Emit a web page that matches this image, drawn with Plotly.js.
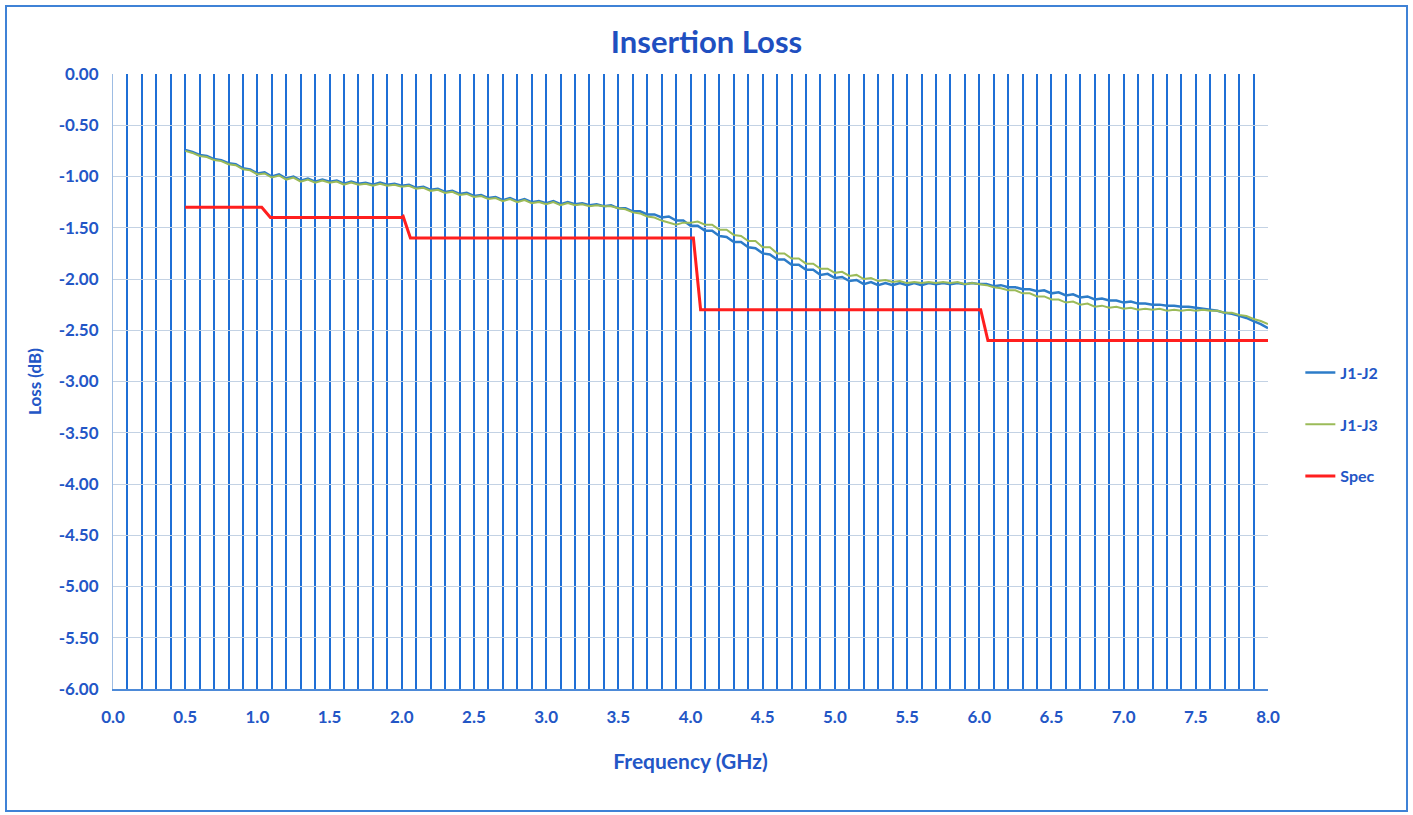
<!DOCTYPE html>
<html>
<head>
<meta charset="utf-8">
<script src="https://cdn.plot.ly/plotly-3.0.1.min.js"></script>
<style>
  html, body { margin: 0; padding: 0; background: #ffffff; }
  #wrap { position: relative; width: 1413px; height: 815px; }
  #chart { position: absolute; left: 0; top: 0; width: 1413px; height: 815px; }
  #frame { position: absolute; left: 5px; top: 5px; width: 1399px; height: 803px;
           border: 2px solid #3f82d6; pointer-events: none; }
</style>
</head>
<body>
<div id="wrap">
  <div id="chart"></div>
  <div id="frame"></div>
</div>
<script>
// Frequency points (GHz)
const freq = [
  0.50,0.55,0.60,0.65,0.70,0.75,0.80,0.85,0.90,0.95,
  1.00,1.05,1.10,1.15,1.20,1.25,1.30,1.35,1.40,1.45,
  1.50,1.55,1.60,1.65,1.70,1.75,1.80,1.85,1.90,1.95,
  2.00,2.05,2.10,2.15,2.20,2.25,2.30,2.35,2.40,2.45,
  2.50,2.55,2.60,2.65,2.70,2.75,2.80,2.85,2.90,2.95,
  3.00,3.05,3.10,3.15,3.20,3.25,3.30,3.35,3.40,3.45,
  3.50,3.55,3.60,3.65,3.70,3.75,3.80,3.85,3.90,3.95,
  4.00,4.05,4.10,4.15,4.20,4.25,4.30,4.35,4.40,4.45,
  4.50,4.55,4.60,4.65,4.70,4.75,4.80,4.85,4.90,4.95,
  5.00,5.05,5.10,5.15,5.20,5.25,5.30,5.35,5.40,5.45,
  5.50,5.55,5.60,5.65,5.70,5.75,5.80,5.85,5.90,5.95,
  6.00,6.05,6.10,6.15,6.20,6.25,6.30,6.35,6.40,6.45,
  6.50,6.55,6.60,6.65,6.70,6.75,6.80,6.85,6.90,6.95,
  7.00,7.05,7.10,7.15,7.20,7.25,7.30,7.35,7.40,7.45,
  7.50,7.55,7.60,7.65,7.70,7.75,7.80,7.85,7.90,7.95,
  8.00
];

// J1-J2 insertion loss (dB)
const lossJ1J2 = [
  -0.74,-0.76,-0.79,-0.80,-0.83,-0.84,-0.87,-0.88,-0.92,-0.93,
  -0.97,-0.96,-1.00,-0.98,-1.02,-1.00,-1.04,-1.02,-1.05,-1.03,
  -1.05,-1.04,-1.07,-1.05,-1.07,-1.06,-1.08,-1.06,-1.08,-1.07,
  -1.09,-1.08,-1.11,-1.10,-1.13,-1.12,-1.15,-1.14,-1.17,-1.16,
  -1.19,-1.18,-1.21,-1.20,-1.23,-1.21,-1.24,-1.22,-1.25,-1.24,
  -1.26,-1.24,-1.27,-1.25,-1.27,-1.26,-1.28,-1.27,-1.29,-1.28,
  -1.31,-1.31,-1.34,-1.34,-1.37,-1.37,-1.40,-1.39,-1.43,-1.43,
  -1.48,-1.48,-1.53,-1.53,-1.58,-1.59,-1.64,-1.64,-1.69,-1.70,
  -1.75,-1.76,-1.81,-1.81,-1.86,-1.86,-1.91,-1.91,-1.96,-1.95,
  -1.99,-1.98,-2.02,-2.01,-2.05,-2.03,-2.06,-2.04,-2.06,-2.04,
  -2.06,-2.04,-2.06,-2.04,-2.05,-2.04,-2.05,-2.04,-2.05,-2.04,
  -2.05,-2.05,-2.07,-2.06,-2.08,-2.08,-2.10,-2.10,-2.12,-2.11,
  -2.14,-2.13,-2.16,-2.15,-2.18,-2.17,-2.20,-2.19,-2.21,-2.21,
  -2.23,-2.22,-2.24,-2.24,-2.25,-2.25,-2.26,-2.26,-2.27,-2.27,
  -2.28,-2.29,-2.30,-2.31,-2.33,-2.34,-2.36,-2.38,-2.41,-2.44,
  -2.48
];

// J1-J3 insertion loss (dB)
const lossJ1J3 = [
  -0.75,-0.77,-0.80,-0.81,-0.84,-0.85,-0.88,-0.89,-0.93,-0.94,
  -0.98,-0.97,-1.01,-0.99,-1.03,-1.01,-1.05,-1.03,-1.06,-1.04,
  -1.06,-1.05,-1.08,-1.06,-1.08,-1.07,-1.09,-1.07,-1.09,-1.08,
  -1.10,-1.09,-1.12,-1.11,-1.14,-1.13,-1.16,-1.15,-1.18,-1.17,
  -1.20,-1.19,-1.22,-1.21,-1.24,-1.22,-1.25,-1.23,-1.26,-1.25,
  -1.27,-1.25,-1.28,-1.26,-1.28,-1.27,-1.29,-1.28,-1.29,-1.29,
  -1.31,-1.32,-1.35,-1.36,-1.39,-1.40,-1.43,-1.45,-1.47,-1.45,
  -1.45,-1.44,-1.47,-1.47,-1.52,-1.52,-1.57,-1.58,-1.63,-1.63,
  -1.69,-1.69,-1.75,-1.75,-1.80,-1.80,-1.85,-1.85,-1.90,-1.90,
  -1.94,-1.93,-1.97,-1.96,-2.00,-1.99,-2.02,-2.01,-2.03,-2.02,
  -2.04,-2.03,-2.04,-2.03,-2.04,-2.03,-2.04,-2.03,-2.05,-2.04,
  -2.05,-2.06,-2.08,-2.09,-2.11,-2.11,-2.14,-2.14,-2.17,-2.17,
  -2.20,-2.20,-2.23,-2.22,-2.25,-2.24,-2.27,-2.26,-2.28,-2.27,
  -2.29,-2.28,-2.30,-2.29,-2.30,-2.29,-2.31,-2.30,-2.31,-2.30,
  -2.31,-2.30,-2.31,-2.31,-2.33,-2.33,-2.35,-2.36,-2.39,-2.41,
  -2.44
];

// Spec limit (dB)
const specFreq = [0.50, 1.03, 1.09, 2.00, 2.01, 2.06, 4.02, 4.07, 6.01, 6.06, 8.00];
const specLoss = [-1.30, -1.30, -1.40, -1.40, -1.39, -1.60, -1.60, -2.30, -2.30, -2.60, -2.60];

const seriesNames = ['J1-J2', 'J1-J3', 'Spec'];

// Tick labels
const xTickVals = [0, 0.5, 1, 1.5, 2, 2.5, 3, 3.5, 4, 4.5, 5, 5.5, 6, 6.5, 7, 7.5, 8];
const xTickText = ['0.0','0.5','1.0','1.5','2.0','2.5','3.0','3.5','4.0','4.5','5.0','5.5','6.0','6.5','7.0','7.5','8.0'];
const yTickVals = [0, -0.5, -1, -1.5, -2, -2.5, -3, -3.5, -4, -4.5, -5, -5.5, -6];
const yTickText = ['0.00','-0.50','-1.00','-1.50','-2.00','-2.50','-3.00','-3.50','-4.00','-4.50','-5.00','-5.50','-6.00'];

const textBlue = '#2356c6';
const fontFam = 'Lato, "Open Sans", "Noto Sans", sans-serif';

const traces = [
  { x: freq, y: lossJ1J2, name: seriesNames[0], type: 'scatter', mode: 'lines',
    line: { color: '#2d7cc8', width: 2.5 }, legendgroup: 'a' },
  { x: freq, y: lossJ1J3, name: seriesNames[1], type: 'scatter', mode: 'lines',
    line: { color: '#9bbb59', width: 2 }, legendgroup: 'b' },
  { x: specFreq, y: specLoss, name: seriesNames[2], type: 'scatter', mode: 'lines',
    line: { color: '#ff1f1f', width: 3 }, legendgroup: 'c' }
];

const layout = {
  width: 1413, height: 815,
  paper_bgcolor: '#ffffff', plot_bgcolor: '#ffffff',
  margin: { l: 113, r: 145, t: 74, b: 126 },
  font: { family: fontFam, color: textBlue },
  title: { text: '<b>Insertion Loss</b>', x: 0.5, xref: 'container', y: 0.948, yanchor: 'middle',
           font: { size: 31, color: '#1f4fc0', family: fontFam } },
  xaxis: {
    range: [0, 8], tickmode: 'array', tickvals: xTickVals, ticktext: xTickText,
    showgrid: true, gridcolor: '#1f6fd6', gridwidth: 2,
    minor: { dtick: 0.1, tick0: 0, showgrid: true, gridcolor: '#1f6fd6', gridwidth: 2 },
    zeroline: false, showline: true, linecolor: '#4d8ad8', linewidth: 1.5,
    ticks: '', ticklabelstandoff: 12,
    tickfont: { size: 17, color: textBlue, family: fontFam, weight: 'bold' },
    title: { text: '<b>Frequency (GHz)</b>', standoff: 28, font: { size: 21, color: textBlue, family: fontFam } }
  },
  yaxis: {
    range: [-6, 0], tickmode: 'array', tickvals: yTickVals, ticktext: yTickText,
    showgrid: true, gridcolor: '#c3d2e4', gridwidth: 1,
    zeroline: false, showline: true, linecolor: '#9dbce3', linewidth: 1,
    ticks: '', ticklabelstandoff: 10,
    tickfont: { size: 17, color: textBlue, family: fontFam, weight: 'bold' },
    title: { text: '<b>Loss (dB)</b>', standoff: 12, font: { size: 17, color: textBlue, family: fontFam } }
  },
  legend: {
    x: 1.028, xanchor: 'left', y: 0.43, yanchor: 'middle',
    tracegroupgap: 28, bgcolor: 'rgba(0,0,0,0)',
    font: { size: 16, color: textBlue, family: fontFam, weight: 'bold' }
  },
  showlegend: true
};

Plotly.newPlot('chart', traces, layout, { displayModeBar: false, staticPlot: true });
</script>
</body>
</html>
